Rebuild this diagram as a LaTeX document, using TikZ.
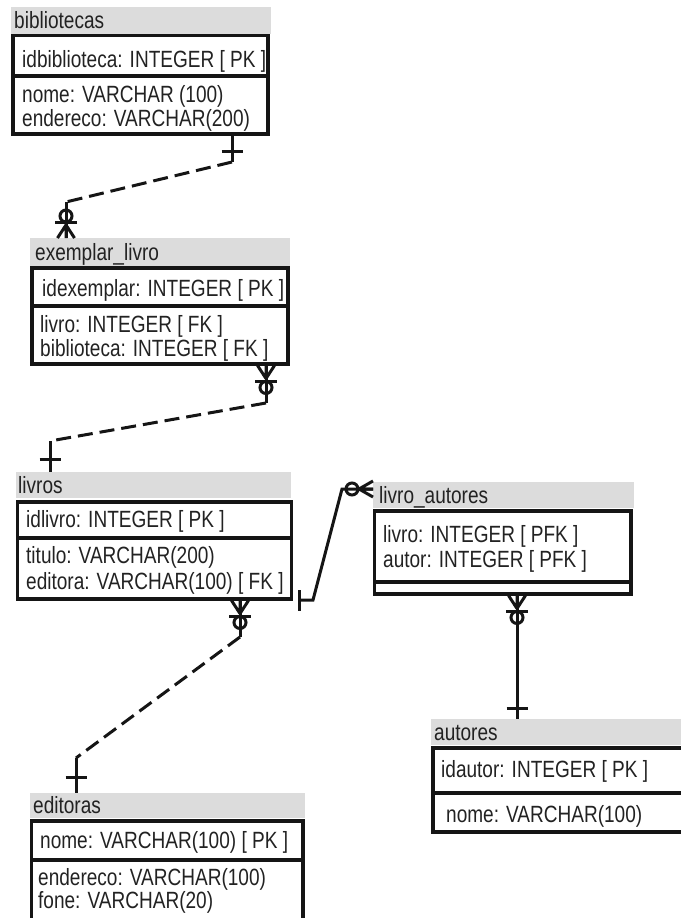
\documentclass[tikz,border=0pt]{standalone}
\usepackage{fontspec}
\setmainfont{Liberation Sans}[FakeStretch=0.81]
\definecolor{hdrgray}{HTML}{DCDCDC}
\definecolor{linecol}{HTML}{151515}
\definecolor{txtcol}{HTML}{222222}
\begin{document}
\begin{tikzpicture}[x=1pt,y=-1pt,
  hdr/.style={fill=hdrgray, draw=none, rectangle, inner sep=0pt, outer sep=0pt, anchor=north west},
  ebox/.style={draw=linecol, line width=3.2pt, rectangle, inner sep=0pt, outer sep=0pt, anchor=north west},
  txt/.style={anchor=base west, inner sep=0pt, text=txtcol, font=\fontsize{23.5}{27}\selectfont},
  divl/.style={draw=linecol, line width=3.2pt},
  conn/.style={draw=linecol, line width=3pt},
  dsh/.style={conn, dash pattern=on 15pt off 7pt},
  zmany/.pic={
    \draw[conn] (-8.5,0) -- (0,13) (0,0) -- (0,13) (8.5,0) -- (0,13);
    \draw[conn] (-11,16) -- (11,16);
    \draw[conn] (0,22) circle[radius=6pt];
  },
  zmanyb/.pic={
    \draw[conn] (-8,0) -- (0,14) (0,0) -- (0,14) (8,0) -- (0,14);
    \draw[conn] (0,21) circle[radius=6pt];
  },
  onebar/.pic={\draw[conn] (-10.5,0) -- (10.5,0);}
]
\useasboundingbox (0,0) rectangle (680,918);

% ---------- bibliotecas
\node[hdr, minimum width=260pt, minimum height=27pt] (bh) at (11,7) {};
\node[ebox, minimum width=255pt, minimum height=98.5pt] (bb) at (13,35.5) {};
\draw[divl] (13,76) -- (268,76);
\node[txt] (bt) at (14,28) {bibliotecas};
\node[txt] (b1) at (22,67) {idbiblioteca: INTEGER [ PK ]};
\node[txt] (b2) at (22,102) {nome: VARCHAR (100)};
\node[txt] (b3) at (22,126.5) {endereco: VARCHAR(200)};

% ---------- exemplar_livro
\node[hdr, minimum width=260pt, minimum height=28pt] (eh) at (30,238) {};
\node[ebox, minimum width=256pt, minimum height=96pt] (eb) at (32,268) {};
\draw[divl] (32,306) -- (288,306);
\node[txt] (et) at (35,260) {exemplar\_livro};
\node[txt] (e1) at (42,296.5) {idexemplar: INTEGER [ PK ]};
\node[txt] (e2) at (40,332) {livro: INTEGER [ FK ]};
\node[txt] (e3) at (40,356.5) {biblioteca: INTEGER [ FK ]};

% ---------- livros
\node[hdr, minimum width=275pt, minimum height=26pt] (lh) at (16,472) {};
\node[ebox, minimum width=274pt, minimum height=97pt] (lb) at (17.5,502) {};
\draw[divl] (17.5,538) -- (291.5,538);
\node[txt] (lt) at (18,493) {livros};
\node[txt] (l1) at (26,527) {idlivro: INTEGER [ PK ]};
\node[txt] (l2) at (26,563) {titulo: VARCHAR(200)};
\node[txt] (l3) at (26,589) {editora: VARCHAR(100) [ FK ]};

% ---------- livro_autores
\node[hdr, minimum width=261pt, minimum height=26pt] (ah) at (373,482) {};
\node[ebox, minimum width=256.5pt, minimum height=83pt] (ab) at (374.5,511) {};
\draw[divl] (374.5,582) -- (631,582);
\node[txt] (at) at (379,503) {livro\_autores};
\node[txt] (a1) at (383,542) {livro: INTEGER [ PFK ]};
\node[txt] (a2) at (383,567) {autor: INTEGER [ PFK ]};

% ---------- autores
\node[hdr, minimum width=260pt, minimum height=26pt] (uh) at (431,719) {};
\node[ebox, minimum width=257pt, minimum height=84pt] (ub) at (433,748) {};
\draw[divl] (433,793) -- (690,793);
\node[txt] (ut) at (434,740) {autores};
\node[txt] (u1) at (441,777) {idautor: INTEGER [ PK ]};
\node[txt] (u2) at (446,822) {nome: VARCHAR(100)};

% ---------- editoras
\node[hdr, minimum width=275pt, minimum height=25pt] (dh) at (30,793) {};
\node[ebox, minimum width=271.5pt, minimum height=120pt] (db) at (31.5,821) {};
\draw[divl] (31.5,860) -- (303,860);
\node[txt] (dt) at (33,813) {editoras};
\node[txt] (d1) at (40,848) {nome: VARCHAR(100) [ PK ]};
\node[txt] (d2) at (38,885) {endereco: VARCHAR(100)};
\node[txt] (d3) at (38,908) {fone: VARCHAR(20)};

% ---------- connector bibliotecas -> exemplar_livro
\coordinate (c1a) at (232,134);
\coordinate (c1b) at (232,162);
\coordinate (c1c) at (66,202);
\coordinate (c1d) at (66,238);
\draw[conn] (c1a) -- (c1b);
\draw[dsh] (c1b) -- (c1c);
\draw[conn] (c1c) -- (c1d);
\pic at (232,151) {onebar};
\pic[rotate=180] at (c1d) {zmany};

% ---------- connector exemplar_livro -> livros
\coordinate (c2a) at (266,364);
\coordinate (c2b) at (266,403);
\coordinate (c2c) at (50,441);
\coordinate (c2d) at (50,472);
\draw[conn] (c2a) -- (c2b);
\draw[dsh] (c2b) -- (c2c);
\draw[conn] (c2c) -- (c2d);
\pic at (266,365.5) {zmany};
\pic at (50,459) {onebar};

% ---------- connector livros -> editoras
\coordinate (c3a) at (240,599);
\coordinate (c3b) at (240,637);
\coordinate (c3c) at (76,758);
\coordinate (c3d) at (76,793);
\draw[conn] (c3a) -- (c3b);
\draw[dsh] (c3b) -- (c3c);
\draw[conn] (c3c) -- (c3d);
\pic at (240,600.5) {zmany};
\pic at (76,777) {onebar};

% ---------- connector livros -> livro_autores
\coordinate (c4a) at (299,600);
\coordinate (c4b) at (313,600);
\coordinate (c4c) at (342,489);
\coordinate (c4d) at (373,489);
\draw[conn] (c4a) -- (c4b) -- (c4c) -- (c4d);
\pic[rotate=90] at (c4a) {onebar};
\pic[rotate=-90] at (c4d) {zmanyb};

% ---------- connector livro_autores -> autores
\coordinate (c5a) at (517,594);
\coordinate (c5b) at (517,719);
\draw[conn] (c5a) -- (c5b);
\pic at (517,595.5) {zmany};
\pic at (517,708) {onebar};
\end{tikzpicture}
\end{document}
